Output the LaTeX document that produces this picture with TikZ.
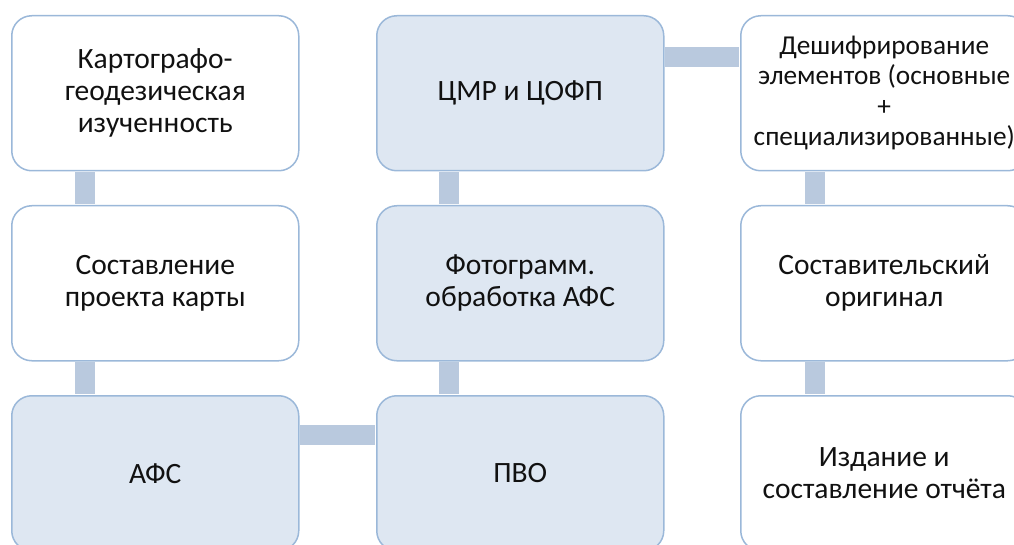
\documentclass[tikz,border=0pt]{standalone}
\usepackage{fontspec}
\setmainfont{Carlito}
\usetikzlibrary{calc}
\definecolor{bordc}{HTML}{9BB8D9}
\definecolor{fillb}{HTML}{DEE7F2}
\definecolor{barc}{HTML}{B9C9DE}
\definecolor{textc}{HTML}{111111}
\begin{document}
\begin{tikzpicture}[x=1pt,y=-1pt,
  boxw/.style={draw=bordc, line width=1.5pt, rounded corners=20pt, fill=white,
    minimum width=287pt, minimum height=155pt, inner sep=0pt, anchor=north west,
    align=center, text=textc, font=\fontsize{29.5}{32}\selectfont},
  boxb/.style={boxw, fill=fillb},
  boxs/.style={boxw, font=\fontsize{27.3}{30.5}\selectfont},
  bar/.style={draw=barc, line width=20pt}]
\useasboundingbox (0,0) rectangle (1014,545);
\clip (0,0) rectangle (1014,545);
% boxes
\node[boxw] (a1) at (11,15) {Картографо-\\геодезическая\\изученность};
\node[boxw] (a2) at (11,205) {Составление\\проекта карты};
\node[boxb] (a3) at (11,395) {АФС};
\node[boxb] (b1) at (376,15) {ЦМР и ЦОФП};
\node[boxb] (b2) at (376,205) {Фотограмм.\\обработка АФС};
\node[boxb] (b3) at (376,395) {ПВО};
\node[boxs] (c1) at (740,15) {Дешифрирование\\элементов (основные\\+\\специализированные)};
\node[boxw] (c2) at (740,205) {Составительский\\оригинал};
\node[boxw] (c3) at (740,395) {Издание и\\составление отчёта};
% connectors
\draw[bar] ($(a1.south west)+(74,0.8)$) -- ($(a2.north west)+(74,-0.8)$);
\draw[bar] ($(a2.south west)+(74,0.8)$) -- ($(a3.north west)+(74,-0.8)$);
\draw[bar] ($(b1.south west)+(73,0.8)$) -- ($(b2.north west)+(73,-0.8)$);
\draw[bar] ($(b2.south west)+(73,0.8)$) -- ($(b3.north west)+(73,-0.8)$);
\draw[bar] ($(c1.south west)+(75,0.8)$) -- ($(c2.north west)+(75,-0.8)$);
\draw[bar] ($(c2.south west)+(75,0.8)$) -- ($(c3.north west)+(75,-0.8)$);
\draw[bar] ($(b1.north east)+(0.8,42.5)$) -- ($(c1.north west)+(-0.8,42.5)$);
\draw[bar] ($(a3.north east)+(0.8,40)$) -- ($(b3.north west)+(-0.8,40)$);
\end{tikzpicture}
\end{document}
